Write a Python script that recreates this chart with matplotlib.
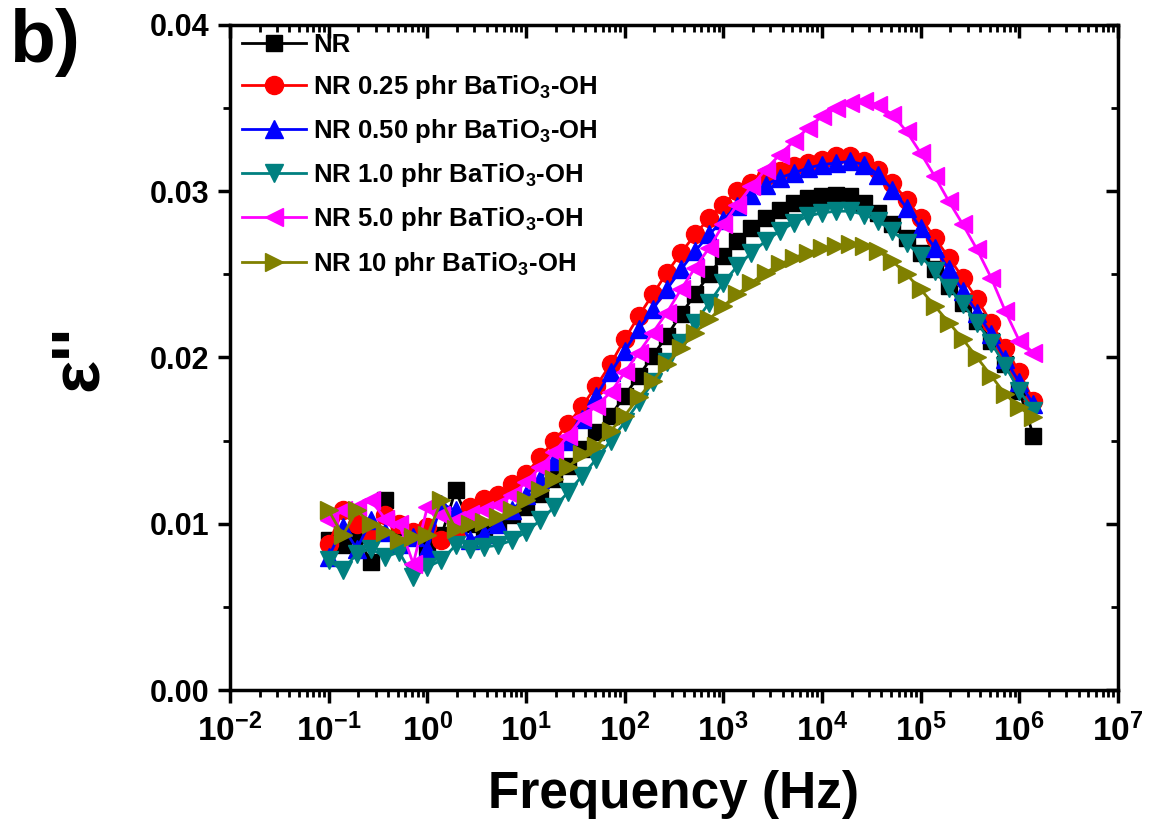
import numpy as np
import matplotlib
matplotlib.use("Agg")
import matplotlib.pyplot as plt
from matplotlib.ticker import LogLocator, MultipleLocator, FuncFormatter, NullFormatter

plt.rcParams['font.family'] = ['Liberation Sans', 'DejaVu Sans']
plt.rcParams['font.weight'] = 'bold'
plt.rcParams['mathtext.fontset'] = 'custom'
plt.rcParams['mathtext.rm'] = 'Liberation Sans:bold'
plt.rcParams['mathtext.bf'] = 'Liberation Sans:bold'
plt.rcParams['mathtext.it'] = 'Liberation Sans:bold'

# frequency grid (Hz), 7 points per decade
freq = [0.1, 0.139, 0.193, 0.268, 0.373, 0.518, 0.72, 1.0, 1.39, 1.93,
        2.68, 3.73, 5.18, 7.2, 10, 13.9, 19.3, 26.8, 37.3, 51.8,
        72, 100, 139, 193, 268, 373, 518, 720, 1000, 1390,
        1930, 2680, 3730, 5180, 7200, 1e4, 1.39e4, 1.93e4, 2.68e4, 3.73e4,
        5.18e4, 7.2e4, 1e5, 1.39e5, 1.93e5, 2.68e5, 3.73e5, 5.18e5, 7.2e5, 1e6, 1.39e6]

eps_nr = [0.0090, 0.0087, 0.0093, 0.0077, 0.0114, 0.0098, 0.0094, 0.0086, 0.0093, 0.0120,
          0.0100, 0.0098, 0.0100, 0.0105, 0.0110, 0.0118, 0.0127, 0.0135, 0.0145, 0.0155,
          0.0165, 0.0177, 0.0189, 0.0201, 0.0213, 0.0226, 0.0238, 0.0250, 0.0261, 0.0270,
          0.0278, 0.0284, 0.0289, 0.0293, 0.0296, 0.0297, 0.0298, 0.0297, 0.0293, 0.0287,
          0.0280, 0.0272, 0.0263, 0.0253, 0.0243, 0.0233, 0.0222, 0.0210, 0.0196, 0.0180, 0.0153]

eps_025 = [0.0088, 0.0108, 0.0100, 0.0092, 0.0105, 0.0100, 0.0095, 0.0098, 0.0090, 0.0095,
           0.0110, 0.0115, 0.0117, 0.0124, 0.0130, 0.0140, 0.0150, 0.0160, 0.0171, 0.0183,
           0.0196, 0.0211, 0.0225, 0.0238, 0.0251, 0.0263, 0.0274, 0.0284, 0.0292, 0.0300,
           0.0305, 0.0309, 0.0312, 0.0315, 0.0317, 0.0319, 0.0321, 0.0321, 0.0318, 0.0313,
           0.0305, 0.0295, 0.0284, 0.0272, 0.0260, 0.0248, 0.0235, 0.0221, 0.0206, 0.0191, 0.0174]

eps_050 = [0.0080, 0.0098, 0.0085, 0.0102, 0.0095, 0.0088, 0.0092, 0.0085, 0.0112, 0.0108,
           0.0090, 0.0094, 0.0100, 0.0108, 0.0117, 0.0127, 0.0138, 0.0150, 0.0163, 0.0177,
           0.0191, 0.0204, 0.0217, 0.0229, 0.0241, 0.0253, 0.0264, 0.0274, 0.0283, 0.0291,
           0.0298, 0.0304, 0.0308, 0.0311, 0.0314, 0.0316, 0.0317, 0.0318, 0.0316, 0.0310,
           0.0301, 0.0290, 0.0278, 0.0266, 0.0253, 0.0240, 0.0227, 0.0214, 0.0199, 0.0185, 0.0172]

eps_10 = [0.0078, 0.0072, 0.0082, 0.0085, 0.0080, 0.0083, 0.0068, 0.0074, 0.0078, 0.0087,
          0.0085, 0.0086, 0.0087, 0.0090, 0.0095, 0.0102, 0.0110, 0.0119, 0.0129, 0.0139,
          0.0150, 0.0161, 0.0173, 0.0185, 0.0197, 0.0209, 0.0221, 0.0233, 0.0245, 0.0255,
          0.0263, 0.0270, 0.0276, 0.0281, 0.0285, 0.0287, 0.0288, 0.0288, 0.0286, 0.0282,
          0.0276, 0.0269, 0.0261, 0.0252, 0.0242, 0.0232, 0.0221, 0.0209, 0.0195, 0.0180, 0.0168]

eps_50 = [0.0102, 0.0108, 0.0110, 0.0114, 0.0103, 0.0100, 0.0076, 0.0110, 0.0105, 0.0102,
          0.0106, 0.0108, 0.0111, 0.0117, 0.0125, 0.0134, 0.0143, 0.0153, 0.0164, 0.0171,
          0.0179, 0.0191, 0.0203, 0.0215, 0.0227, 0.0241, 0.0254, 0.0266, 0.0280, 0.0292,
          0.0303, 0.0313, 0.0322, 0.0330, 0.0338, 0.0345, 0.0350, 0.0353, 0.0354, 0.0352,
          0.0346, 0.0336, 0.0323, 0.0309, 0.0294, 0.0280, 0.0265, 0.0248, 0.0228, 0.0210, 0.0203]

eps_100 = [0.0108, 0.0093, 0.0108, 0.0100, 0.0095, 0.0090, 0.0092, 0.0093, 0.0114, 0.0097,
           0.0100, 0.0101, 0.0104, 0.0108, 0.0114, 0.0120, 0.0127, 0.0134, 0.0142, 0.0147,
           0.0156, 0.0165, 0.0176, 0.0186, 0.0196, 0.0206, 0.0215, 0.0223, 0.0231, 0.0238,
           0.0245, 0.0251, 0.0256, 0.0260, 0.0263, 0.0266, 0.0267, 0.0268, 0.0267, 0.0264,
           0.0258, 0.0250, 0.0241, 0.0231, 0.0221, 0.0211, 0.0200, 0.0189, 0.0178, 0.0170, 0.0164]

labels = ['NR',
          r'NR 0.25 phr BaTiO$_\mathbf{3}$-OH',
          r'NR 0.50 phr BaTiO$_\mathbf{3}$-OH',
          r'NR 1.0 phr BaTiO$_\mathbf{3}$-OH',
          r'NR 5.0 phr BaTiO$_\mathbf{3}$-OH',
          r'NR 10 phr BaTiO$_\mathbf{3}$-OH']
series = [eps_nr, eps_025, eps_050, eps_10, eps_50, eps_100]
colors = ['#000000', '#FF0000', '#0000FF', '#008080', '#FF00FF', '#808000']
markers = ['s', 'o', '^', 'v', '<', '>']
msizes = [11, 13, 13, 13, 13, 13]

fig = plt.figure(figsize=(11.53, 8.19), dpi=100)
ax = fig.add_axes([0.1995, 0.1575, 0.7701, 0.812])

for y, lab, c, m, ms in zip(series, labels, colors, markers, msizes):
    ax.plot(freq, y, color=c, marker=m, markersize=ms, linewidth=2, label=lab)

ax.set_xscale('log')
ax.set_xlim(1e-2, 1e7)
ax.set_ylim(0, 0.04)

ax.xaxis.set_major_locator(LogLocator(base=10, numticks=20))
ax.xaxis.set_minor_locator(LogLocator(base=10, subs=np.arange(2, 10), numticks=20))
ax.xaxis.set_minor_formatter(NullFormatter())
ax.xaxis.set_major_formatter(FuncFormatter(lambda v, p: r'$\mathbf{10^{%d}}$' % round(np.log10(v))))
ax.yaxis.set_major_locator(MultipleLocator(0.01))
ax.yaxis.set_minor_locator(MultipleLocator(0.005))
ax.yaxis.set_major_formatter(FuncFormatter(lambda v, p: '%.2f' % v))

ax.tick_params(which='major', direction='out', length=9, width=2.5, labelsize=22, pad=6)
ax.tick_params(which='minor', direction='out', length=5, width=2)
ax.tick_params(axis='x', labelsize=24, pad=8)
for s in ax.spines.values():
    s.set_linewidth(2.5)

# mirrored ticks pointing inward on top and right
axt = ax.twiny()
axt.set_xscale('log')
axt.set_xlim(ax.get_xlim())
axt.xaxis.set_major_locator(LogLocator(base=10, numticks=20))
axt.xaxis.set_minor_locator(LogLocator(base=10, subs=np.arange(2, 10), numticks=20))
axt.tick_params(which='major', direction='in', length=9, width=2.5, labeltop=False)
axt.tick_params(which='minor', direction='in', length=5, width=2)
axr = ax.twinx()
axr.set_ylim(ax.get_ylim())
axr.yaxis.set_major_locator(MultipleLocator(0.01))
axr.yaxis.set_minor_locator(MultipleLocator(0.005))
axr.tick_params(which='major', direction='in', length=9, width=2.5, labelright=False)
axr.tick_params(which='minor', direction='in', length=5, width=2)

ax.set_xlabel('Frequency (Hz)', fontsize=37, fontweight='bold', labelpad=16)
ax.set_ylabel("\u03b5''", fontsize=50, fontweight='bold', labelpad=28)

leg = ax.legend(loc='upper left', frameon=False, fontsize=18.5, handlelength=2.5,
                labelspacing=0.63, handletextpad=0.25, borderaxespad=0.0,
                borderpad=0.3, bbox_to_anchor=(0.005, 1.0))

fig.text(0.008, 0.99, 'b)', fontsize=54, fontweight='bold', va='top', ha='left')

fig.savefig('out.png', dpi=100)
